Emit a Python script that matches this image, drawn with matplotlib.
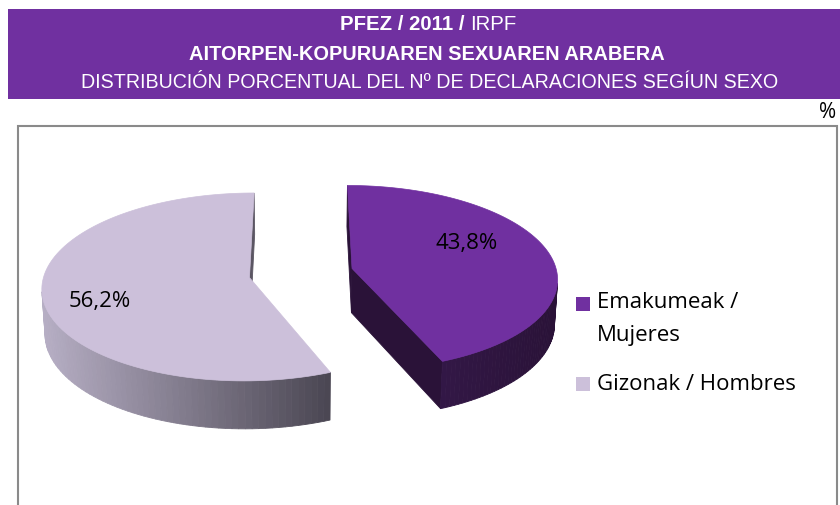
import numpy as np
import matplotlib
matplotlib.use("Agg")
import matplotlib.pyplot as plt
from matplotlib.patches import Polygon, Rectangle
from matplotlib import font_manager as fm

# ---------------- data ----------------
categories = ["Emakumeak /\nMujeres", "Gizonak / Hombres"]
values = [43.8, 56.2]
value_labels = ["43,8%", "56,2%"]
title_bold = "PFEZ / 2011 / "
title_normal = "IRPF"
title_line2 = "AITORPEN-KOPURUAREN SEXUAREN ARABERA"
title_line3 = "DISTRIBUCIÓN PORCENTUAL DEL Nº DE DECLARACIONES SEGÍUN SEXO"
unit_label = "%"

top_colors = ["#7030A0", "#CCC0DA"]

# --------------- fonts ----------------
names = {f.name for f in fm.fontManager.ttflist}
head_font = "Liberation Sans Narrow" if "Liberation Sans Narrow" in names else "Liberation Sans"
body_font = "Open Sans"
body_size = 16

W, H = 840, 505
fig = plt.figure(figsize=(W / 100, H / 100), dpi=100)
ax = fig.add_axes([0, 0, 1, 1])
ax.set_xlim(0, W)
ax.set_ylim(H, 0)
ax.axis("off")

# header band
ax.add_patch(Rectangle((8, 9), W - 8, 90, facecolor="#7030A0", edgecolor="none", zorder=1))
fig.canvas.draw()
r = fig.canvas.get_renderer()


def fit_text(x, y, s, target_w, weight="normal", ha="center", base=15):
    t = ax.text(x, y, s, color="white", fontsize=base, fontweight=weight,
                family=head_font, va="center", ha=ha, zorder=3)
    w = t.get_window_extent(r).width
    t.set_fontsize(base * target_w / w)
    return t


# line 1 (bold + normal), total width ~177 px centred at 429
tb = ax.text(0, 24.5, title_bold, color="white", fontsize=15, fontweight="bold",
             family=head_font, va="center", ha="left", zorder=3)
tn = ax.text(0, 24.5, title_normal, color="white", fontsize=15,
             family=head_font, va="center", ha="left", zorder=3)
wb = tb.get_window_extent(r).width
wn = tn.get_window_extent(r).width
k = 177.0 / (wb + wn)
tb.set_fontsize(15 * k)
tn.set_fontsize(15 * k)
x0 = 428.5 - (wb + wn) * k / 2
tb.set_x(x0)
tn.set_x(x0 + wb * k)
fit_text(427, 54.5, title_line2, 476, weight="bold")
fit_text(429.5, 83, title_line3, 701)

ax.text(836, 112, unit_label, fontsize=15, family=body_font, va="center", ha="right", color="black")

# plot frame
ax.add_patch(Rectangle((18, 126), 819, 400, facecolor="white", edgecolor="#8a8a8a", lw=1.5, zorder=0.5))

# --------------- 3D pie ----------------
theta = np.radians(26.7)
F = 9.0
P = 205.0
cx, cy = 301.0, 273.0
h = 0.245
explode = 0.255
cam = np.array([0.0, -F * np.cos(theta), F * np.sin(theta)])


def proj(pts):
    pts = np.atleast_2d(pts)
    x, y, z = pts[:, 0], pts[:, 1], pts[:, 2]
    X = x
    Y = y * np.sin(theta) + z * np.cos(theta)
    D = y * np.cos(theta) - z * np.sin(theta)
    s = F / (F + D)
    return np.column_stack([cx + P * X * s, cy - P * Y * s])


def depth(pts):
    pts = np.atleast_2d(pts)
    return np.mean(pts[:, 1] * np.cos(theta) - pts[:, 2] * np.sin(theta))


def visible(pt, normal):
    return np.dot(cam - pt, normal) > 0


def mix(c1, c2, t):
    a = np.array(matplotlib.colors.to_rgb(c1))
    b = np.array(matplotlib.colors.to_rgb(c2))
    return tuple(a + (b - a) * t)


wall_cols = [("#3A1C52", "#2A1238"), ("#B8B0C6", "#4A4652")]

fracs = np.array(values) / sum(values)
start = 90.0
faces = []
for i, f in enumerate(fracs):
    span = 360 * f
    a0, a1 = start - span, start  # clockwise from 12 o'clock
    start = a0
    mid = np.radians((a0 + a1) / 2)
    off = explode * np.array([np.cos(mid), np.sin(mid), 0])
    angs = np.radians(np.linspace(a0, a1, 120))
    rim = np.column_stack([np.cos(angs), np.sin(angs), np.zeros_like(angs)]) + off
    apex = off.copy()
    dz = np.array([0, 0, -h])
    # radial faces
    for ang, sign in ((a0, -1), (a1, 1)):
        ra = np.radians(ang)
        p_out = off + np.array([np.cos(ra), np.sin(ra), 0])
        n = sign * np.array([-np.sin(ra), np.cos(ra), 0])
        quad = np.array([apex, p_out, p_out + dz, apex + dz])
        if visible(quad.mean(axis=0), n):
            col = wall_cols[i][1] if i == 0 else mix(*wall_cols[i], 0.85)
            faces.append((depth(quad), quad, col, 2))
    # outer wall segments
    for kk in range(len(angs) - 1):
        pa, pb = rim[kk], rim[kk + 1]
        am = (angs[kk] + angs[kk + 1]) / 2
        nm = np.array([np.cos(am), np.sin(am), 0])
        quad = np.array([pa, pb, pb + dz, pa + dz])
        if visible(quad.mean(axis=0), nm):
            sx = proj(quad.mean(axis=0))[0, 0]
            t = np.clip((sx - 40) / (330 - 40), 0, 1) if i == 1 else np.clip((sx - 350) / 200, 0, 1)
            faces.append((depth(quad), quad, mix(*wall_cols[i], t), 2))
    # top face
    top = np.vstack([apex, rim])
    faces.append((-99, top, top_colors[i], 3))

walls = [f for f in faces if f[3] == 2]
walls.sort(key=lambda f: -f[0])
for d, quad, col, z in walls:
    ax.add_patch(Polygon(proj(quad), closed=True, facecolor=col, edgecolor=col, lw=0.6, zorder=2))
for d, quad, col, z in faces:
    if z == 3:
        ax.add_patch(Polygon(proj(quad), closed=True, facecolor=col, edgecolor=col, lw=0.5, zorder=3))

label_xy = [(467, 243), (100, 302)]
for i, lab in enumerate(value_labels):
    ax.text(label_xy[i][0], label_xy[i][1], lab, fontsize=body_size, family=body_font,
            ha="center", va="center", color="black", zorder=5)

# legend
ax.text(597, 302, "Emakumeak /", fontsize=body_size, family=body_font, va="center", ha="left")
ax.text(597, 335, "Mujeres", fontsize=body_size, family=body_font, va="center", ha="left")
ax.text(597, 384, categories[1], fontsize=body_size, family=body_font, va="center", ha="left")
leg_y = [304, 383.5]
for i, yy in enumerate(leg_y):
    ax.add_patch(Rectangle((576, yy - 7), 14, 14, facecolor=top_colors[i], edgecolor="none", zorder=4))

fig.savefig("out.png", dpi=100)
